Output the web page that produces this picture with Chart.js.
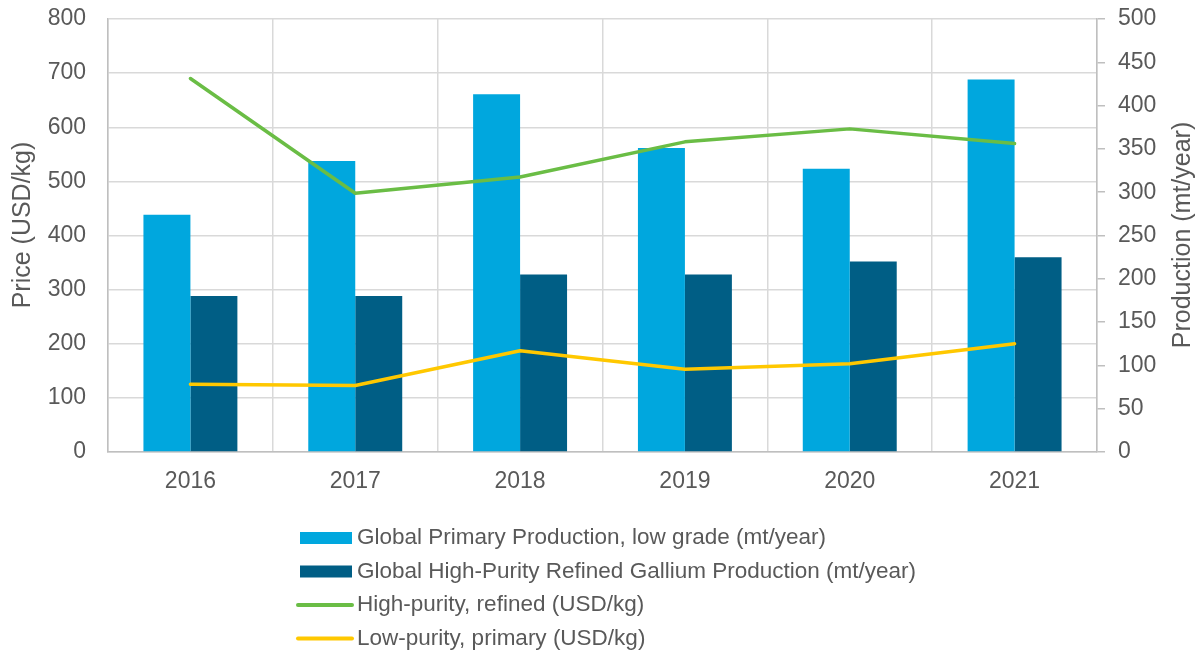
<!DOCTYPE html>
<html>
<head>
<meta charset="utf-8">
<script src="https://cdn.jsdelivr.net/npm/chart.js@4.4.1/dist/chart.umd.min.js"></script>
<style>
  html, body { margin: 0; padding: 0; background: #fff; }
</style>
</head>
<body>
<canvas id="galliumChart" width="1198" height="654"></canvas>
<script>
const years = ['2016', '2017', '2018', '2019', '2020', '2021'];
// production, mt/year (right axis)
const primaryProduction = [274, 336, 413, 351, 327, 430];
const refinedProduction = [180, 180, 205, 205, 220, 225];
// price, USD/kg (left axis)
const refinedPrice = [690, 478, 508, 573, 597, 570];
const primaryPrice = [125, 123, 187, 153, 163, 200];

const FONT = "'Liberation Sans', Arial, sans-serif";
const TEXT = '#595959';
const GRID = '#d9d9d9';
const AXIS = '#bfbfbf';

// axis titles read bottom-to-top on both sides, and the legend is a left-aligned stack,
// so both are drawn here instead of by the built-in title/legend
const sideText = {
  id: 'sideText',
  afterDraw(chart) {
    const ctx = chart.ctx;
    ctx.save();
    ctx.fillStyle = TEXT;
    ctx.font = `25px ${FONT}`;
    ctx.textAlign = 'center';
    ctx.textBaseline = 'middle';
    [['Price (USD/kg)', 23, 225], ['Production (mt/year)', 1183, 235]].forEach(([text, x, y]) => {
      ctx.save();
      ctx.translate(x, y);
      ctx.rotate(-Math.PI / 2);
      ctx.fillText(text, 0, 0);
      ctx.restore();
    });

    ctx.font = `22.5px ${FONT}`;
    ctx.textAlign = 'left';
    chart.data.datasets.forEach((ds, i) => {
      const y = 538 + i * 33.5;
      if (ds.type === 'line') {
        ctx.strokeStyle = ds.borderColor;
        ctx.lineWidth = 4;
        ctx.lineCap = 'round';
        ctx.beginPath();
        ctx.moveTo(298, y);
        ctx.lineTo(352, y);
        ctx.stroke();
      } else {
        ctx.fillStyle = ds.backgroundColor;
        ctx.fillRect(300, y - 6, 52, 12);
      }
      ctx.fillStyle = TEXT;
      ctx.fillText(ds.label, 357, y);
    });
    ctx.restore();
  }
};

const tickFont = { family: FONT, size: 23 };

// fixed side widths; tick padding should not push the plot down
const fitSide = width => s => {
  s.width = width;
  s.paddingTop = 0;
  s.paddingBottom = 0;
};

new Chart(document.getElementById('galliumChart'), {
  type: 'bar',
  data: {
    labels: years,
    datasets: [
      {
        label: 'Global Primary Production, low grade (mt/year)',
        data: primaryProduction,
        backgroundColor: '#00a7de',
        yAxisID: 'y1',
        order: 2
      },
      {
        label: 'Global High-Purity Refined Gallium Production (mt/year)',
        data: refinedProduction,
        backgroundColor: '#005e85',
        yAxisID: 'y1',
        order: 2
      },
      {
        type: 'line',
        label: 'High-purity, refined (USD/kg)',
        data: refinedPrice,
        borderColor: '#6abd45',
        borderWidth: 3.5,
        borderJoinStyle: 'round',
        borderCapStyle: 'round',
        pointRadius: 0,
        tension: 0,
        yAxisID: 'y',
        order: 1
      },
      {
        type: 'line',
        label: 'Low-purity, primary (USD/kg)',
        data: primaryPrice,
        borderColor: '#ffc800',
        borderWidth: 3.5,
        borderJoinStyle: 'round',
        borderCapStyle: 'round',
        pointRadius: 0,
        tension: 0,
        yAxisID: 'y',
        order: 1
      }
    ]
  },
  options: {
    responsive: false,
    animation: false,
    layout: { padding: { top: 19, bottom: 162, left: 0, right: 0 } },
    datasets: { bar: { categoryPercentage: 0.57, barPercentage: 1 } },
    plugins: {
      legend: { display: false },
      tooltip: { enabled: false }
    },
    scales: {
      x: {
        grid: { color: GRID, lineWidth: 1.5, drawTicks: false, offset: true },
        border: { color: AXIS, width: 1.5 },
        ticks: { color: TEXT, font: tickFont, padding: 16 },
        afterFit: s => { s.height = 40; }
      },
      y: {
        position: 'left',
        min: 0,
        max: 800,
        ticks: { stepSize: 100, color: TEXT, font: tickFont, padding: 22 },
        grid: { color: GRID, lineWidth: 1.5, drawTicks: false },
        border: { color: AXIS, width: 1.5 },
        afterFit: fitSide(108)
      },
      y1: {
        position: 'right',
        min: 0,
        max: 500,
        ticks: { stepSize: 50, color: TEXT, font: tickFont, padding: 13 },
        grid: { drawOnChartArea: false, color: AXIS, lineWidth: 1.5, tickLength: 8 },
        border: { color: AXIS, width: 1.5 },
        afterFit: fitSide(101)
      }
    }
  },
  plugins: [sideText]
});
</script>
</body>
</html>
